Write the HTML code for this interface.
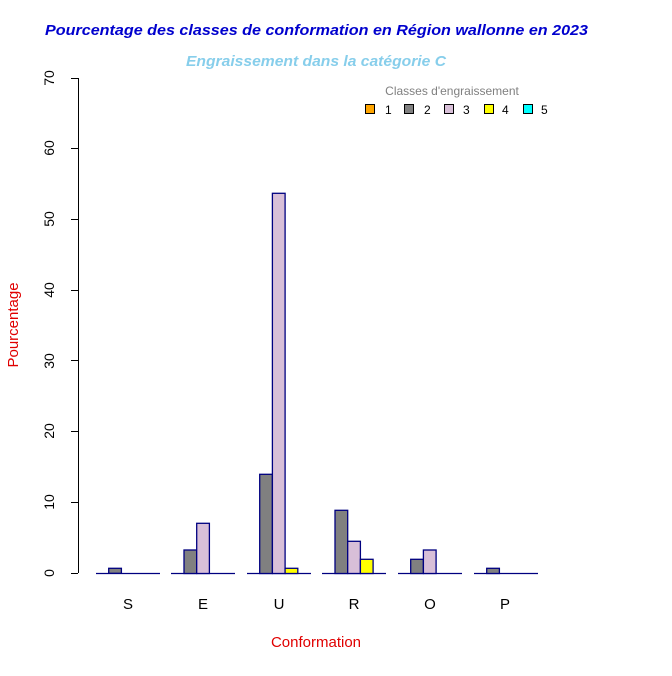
<!DOCTYPE html><html><head><meta charset="utf-8"><style>body{margin:0;background:#fff}</style></head><body>
<svg width="672" height="671" xmlns="http://www.w3.org/2000/svg" font-family="Liberation Sans, sans-serif">
<rect width="672" height="671" fill="#fff"/>
<text x="45" y="35" textLength="543" lengthAdjust="spacingAndGlyphs" font-size="15" font-weight="bold" font-style="italic" fill="#0000CD">Pourcentage des classes de conformation en Région wallonne en 2023</text>
<text x="186" y="66" textLength="260" lengthAdjust="spacingAndGlyphs" font-size="15" font-weight="bold" font-style="italic" fill="#87CEEB">Engraissement dans la catégorie C</text>
<g stroke="#000" stroke-width="1">
<line x1="78.5" y1="78" x2="78.5" y2="573"/>
<line x1="71" y1="573.5" x2="78" y2="573.5"/><line x1="71" y1="502.5" x2="78" y2="502.5"/><line x1="71" y1="431.5" x2="78" y2="431.5"/><line x1="71" y1="360.5" x2="78" y2="360.5"/><line x1="71" y1="290.5" x2="78" y2="290.5"/><line x1="71" y1="219.5" x2="78" y2="219.5"/><line x1="71" y1="148.5" x2="78" y2="148.5"/><line x1="71" y1="78.5" x2="78" y2="78.5"/>
</g>
<g font-size="14" fill="#000" text-anchor="middle">
<text transform="translate(54,573) rotate(-90)">0</text>
<text transform="translate(54,502) rotate(-90)">10</text>
<text transform="translate(54,431) rotate(-90)">20</text>
<text transform="translate(54,361) rotate(-90)">30</text>
<text transform="translate(54,290) rotate(-90)">40</text>
<text transform="translate(54,219) rotate(-90)">50</text>
<text transform="translate(54,148) rotate(-90)">60</text>
<text transform="translate(54,78) rotate(-90)">70</text>
</g>
<text transform="translate(18,325) rotate(-90)" text-anchor="middle" font-size="15" fill="#E00000">Pourcentage</text>
<text x="316" y="647" text-anchor="middle" font-size="15" fill="#E00000">Conformation</text>
<g font-size="15" text-anchor="middle">
<text x="128" y="609">S</text><text x="203" y="609">E</text><text x="279" y="609">U</text><text x="354" y="609">R</text><text x="430" y="609">O</text><text x="505" y="609">P</text>
</g>
<g stroke="#000080" stroke-width="1.3">
<line x1="96" y1="573.5" x2="160" y2="573.5"/><line x1="171" y1="573.5" x2="235" y2="573.5"/><line x1="247" y1="573.5" x2="311" y2="573.5"/><line x1="322" y1="573.5" x2="386" y2="573.5"/><line x1="398" y1="573.5" x2="462" y2="573.5"/><line x1="474" y1="573.5" x2="538" y2="573.5"/>
<rect x="108.7" y="568.3" width="12.7" height="5" fill="#808080"/>
<rect x="184" y="550" width="12.7" height="23.5" fill="#808080"/>
<rect x="196.7" y="523.3" width="12.7" height="50.2" fill="#D8BFD8"/>
<rect x="259.7" y="474.3" width="12.7" height="99.2" fill="#808080"/>
<rect x="272.4" y="193.3" width="12.7" height="380.2" fill="#D8BFD8"/>
<rect x="285.1" y="568.3" width="12.7" height="5.2" fill="#FFFF00"/>
<rect x="335" y="510.3" width="12.7" height="63.2" fill="#808080"/>
<rect x="347.7" y="541.3" width="12.7" height="32.2" fill="#D8BFD8"/>
<rect x="360.4" y="559.3" width="12.7" height="14.2" fill="#FFFF00"/>
<rect x="410.7" y="559.3" width="12.7" height="14.2" fill="#808080"/>
<rect x="423.4" y="550" width="12.7" height="23.5" fill="#D8BFD8"/>
<rect x="486.7" y="568.3" width="12.7" height="5.2" fill="#808080"/>
</g>
<text x="452" y="95" text-anchor="middle" font-size="12" fill="#808080">Classes d'engraissement</text>
<g stroke="#000" stroke-width="1">
<rect x="365.5" y="104.5" width="9" height="9" fill="#FFA500"/>
<rect x="404.5" y="104.5" width="9" height="9" fill="#808080"/>
<rect x="444.5" y="104.5" width="9" height="9" fill="#D8BFD8"/>
<rect x="484.5" y="104.5" width="9" height="9" fill="#FFFF00"/>
<rect x="523.5" y="104.5" width="9" height="9" fill="#00FFFF"/>
</g>
<g font-size="12" fill="#000">
<text x="385" y="114">1</text><text x="424" y="114">2</text><text x="463" y="114">3</text><text x="502" y="114">4</text><text x="541" y="114">5</text>
</g>
</svg>
</body></html>
